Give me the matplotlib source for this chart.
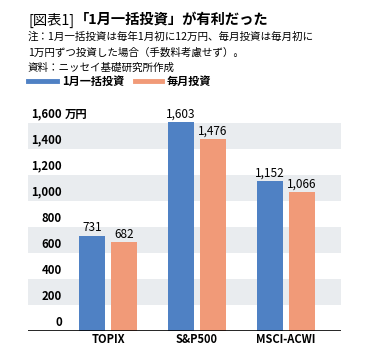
# Recreate the "1月一括投資" bar chart
import numpy as np
import matplotlib.pyplot as plt
import matplotlib.transforms as mtransforms

plt.rcParams['font.family'] = ['Noto Sans CJK JP', 'DejaVu Sans']

# Data
categories = ['TOPIX', 'S&P500', 'MSCI-ACWI']
lump_sum = [731, 1603, 1152]
monthly = [682, 1476, 1066]
series_names = ['1月一括投資', '毎月投資']
y_ticks = [0, 200, 400, 600, 800, 1000, 1200, 1400, 1600]

blue = '#4f81c4'
orange = '#f19a78'
band = '#e9ecef'

W, H = 366, 357
fig = plt.figure(figsize=(W / 100, H / 100), dpi=100)
ax = fig.add_axes([28 / W, 26.3 / H, 313 / W, 0.6008])

x = np.arange(len(categories))
off, bw = 0.178, 0.295
ax.bar(x - off, lump_sum, bw, color=blue, zorder=3)
ax.bar(x + off, monthly, bw, color=orange, zorder=3)
ax.set_xlim(-0.9, 2.62)
ax.set_ylim(0, 1650)

# Alternating grey bands
for lo in (200, 600, 1000, 1400):
    ax.axhspan(lo, lo + 200, color=band, lw=0, zorder=0)

# Value labels
for xi, v in zip(x - off, lump_sum):
    ax.text(xi, v + 10, f'{v:,}', ha='center', va='bottom',
            fontsize=8.5, zorder=4, clip_on=False)
for xi, v in zip(x + off, monthly):
    ax.text(xi, v + 10, f'{v:,}', ha='center', va='bottom',
            fontsize=8.5, zorder=4, clip_on=False)

# Y tick labels drawn inside the plot
trans = mtransforms.blended_transform_factory(ax.transAxes, ax.transData)
for t in y_ticks:
    ax.text(0.1086, t + 15, f'{t:,}', transform=trans, ha='right',
            va='bottom', fontsize=8.2, fontweight='bold', zorder=4)
ax.text(0.117, 1615, '万円', transform=trans, ha='left', va='bottom',
        fontsize=8.2, fontweight='bold', zorder=4)

for s in ax.spines.values():
    s.set_visible(False)
ax.axhline(0, color='black', lw=1.2, zorder=5)
ax.set_yticks([])
ax.set_xticks(x)
ax.set_xticklabels(categories, fontsize=8, fontweight='bold')
ax.tick_params(axis='x', length=0, pad=2)

# Title, notes, legend
fig.text(28 / W, 1 - 20 / H, '[図表1]', fontsize=10.3, va='center', ha='left')
fig.text(75 / W, 1 - 20 / H, '「1月一括投資」が有利だった', fontsize=10.3,
         fontweight='bold', va='center', ha='left')
notes = ['注：1月一括投資は毎年1月初に12万円、毎月投資は毎月初に',
         '1万円ずつ投資した場合（手数料考慮せず）。',
         '資料：ニッセイ基礎研究所作成']
for i, line in enumerate(notes):
    fig.text(28 / W, 1 - (37 + 15.5 * i) / H, line, fontsize=7.6,
             va='center', ha='left')

for (x0, x1, tx), name, c in zip([(28, 57, 62), (135, 162, 167)],
                                 series_names, [blue, orange]):
    fig.add_artist(plt.Line2D([x0 / W, x1 / W], [1 - 81 / H] * 2,
                              color=c, lw=3.5))
    fig.text(tx / W, 1 - 81 / H, name, fontsize=8, fontweight='bold',
             va='center', ha='left')

fig.savefig('out.png', dpi=100)
